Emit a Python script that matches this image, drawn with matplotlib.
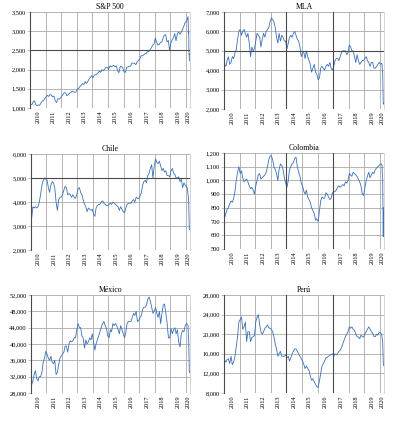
"""Six equity indices, monthly closes Jan 2010 - Mar 2020."""

import matplotlib

matplotlib.use("Agg")
import matplotlib.pyplot as plt  # noqa: E402
import matplotlib.dates as mdates  # noqa: E402
import pandas as pd  # noqa: E402

plt.rcParams["font.family"] = ["Liberation Serif", "DejaVu Serif"]

# monthly points, Jan 2010 .. Jan 2020, then a few points into the March 2020 fall
months = pd.date_range("2010-01-01", "2020-01-01", freq="MS") + pd.Timedelta(days=14)
tail_dates = pd.to_datetime([
    "2020-02-07", "2020-02-20", "2020-02-28", "2020-03-06", "2020-03-12",
    "2020-03-16", "2020-03-19", "2020-03-23", "2020-03-27",
])

sp500 = [
    1100, 1090, 1160, 1190, 1090, 1060, 1080, 1070, 1130, 1180, 1190, 1250,
    1290, 1330, 1300, 1350, 1340, 1290, 1310, 1190, 1140, 1240, 1230, 1260,
    1310, 1360, 1400, 1390, 1320, 1350, 1380, 1400, 1440, 1420, 1410, 1420,
    1490, 1510, 1560, 1590, 1640, 1610, 1690, 1640, 1690, 1750, 1800, 1840,
    1790, 1850, 1870, 1880, 1920, 1960, 1930, 2000, 1970, 2010, 2060, 2060,
    2000, 2100, 2070, 2090, 2110, 2070, 2100, 1970, 1920, 2080, 2080, 2040,
    1940, 1930, 2060, 2070, 2090, 2090, 2170, 2170, 2160, 2130, 2200, 2240,
    2280, 2360, 2360, 2380, 2410, 2420, 2470, 2470, 2520, 2570, 2640, 2670,
    2820, 2710, 2640, 2650, 2710, 2720, 2820, 2900, 2910, 2720, 2760, 2500,
    2700, 2780, 2830, 2940, 2750, 2940, 2980, 2920, 2980, 3040, 3140, 3230,
    3250,
]
sp500_tail = [3330, 3380, 2950, 3000, 2500, 2400, 2410, 2240, 2230]

mla = [
    4300, 4200, 4500, 4700, 4300, 4400, 4700, 4600, 4900, 5050, 5600, 6000,
    6100, 5800, 6000, 6100, 5900, 5700, 5900, 5400, 4700, 5200, 5000, 5100,
    5500, 5900, 5800, 5700, 5200, 5600, 5900, 5700, 6000, 6100, 6200, 6500,
    6700, 6600, 6500, 6200, 5700, 5400, 5900, 5500, 5800, 5700, 5500, 5500,
    5100, 5400, 5700, 5800, 5700, 5900, 6000, 5800, 5600, 5500, 5200, 4700,
    4900, 4900, 4600, 5000, 4700, 4500, 4300, 3900, 4100, 4300, 3900, 3800,
    3500, 3600, 4100, 4200, 4100, 4000, 4200, 4300, 4200, 4400, 4100, 4000,
    4200, 4500, 4600, 4600, 4500, 4700, 4900, 5000, 5000, 5000, 4800, 4900,
    5300, 5200, 5000, 5000, 4700, 4400, 4800, 4500, 4300, 4400, 4500, 4500,
    4600, 4700, 4500, 4400, 4200, 4400, 4400, 4100, 4100, 4200, 4300, 4400,
    4300,
]
mla_tail = [4350, 4300, 4000, 3900, 3100, 2700, 2350, 2250, 2300]

chile = [
    3300, 3800, 3750, 3800, 3750, 3800, 4000, 4300, 4700, 4900, 5000, 4950,
    4900, 4600, 4400, 4700, 4850, 4800, 4600, 4000, 3650, 4100, 4200, 4200,
    4300, 4500, 4650, 4600, 4300, 4350, 4300, 4200, 4300, 4200, 4150, 4300,
    4550, 4600, 4400, 4300, 4100, 3900, 3800, 3600, 3750, 3700, 3650, 3700,
    3500, 3400, 3750, 3850, 3900, 3900, 4000, 4050, 3950, 3900, 3850, 3850,
    3900, 3950, 3900, 4000, 3950, 3900, 3850, 3800, 3650, 3800, 3700, 3600,
    3550, 3750, 3900, 3950, 3950, 3950, 4050, 4100, 4000, 4200, 4150, 4150,
    4250, 4400, 4700, 4850, 4900, 4800, 5100, 5200, 5400, 5550, 5000, 5500,
    5800, 5650, 5600, 5700, 5500, 5300, 5400, 5250, 5300, 5100, 5100, 5050,
    5300, 5400, 5200, 5150, 5000, 5000, 5050, 4850, 4950, 4600, 4800, 4700,
    4650,
]
chile_tail = [4550, 4300, 4200, 4000, 3600, 3200, 2900, 2850, 2850]

colombia = [
    730, 760, 790, 800, 830, 850, 840, 870, 920, 1000, 1060, 1100,
    1050, 1070, 1020, 990, 1000, 1010, 990, 960, 940, 950, 930, 900,
    960, 1000, 1040, 1050, 1010, 1020, 1030, 1040, 1060, 1100, 1150, 1180,
    1180, 1150, 1100, 1080, 1050, 1000, 1080, 1120, 1110, 1080, 1020, 980,
    950, 1000, 1080, 1100, 1120, 1130, 1160, 1170, 1100, 1060, 1030, 980,
    960, 920, 900, 930, 880, 860, 840, 800, 780, 760, 710, 720,
    700, 780, 850, 880, 870, 870, 910, 900, 880, 860, 870, 910,
    920, 920, 930, 950, 960, 950, 960, 970, 960, 990, 980, 1000,
    1050, 1040, 1030, 1060, 1050, 1040, 1030, 1010, 990, 960, 900, 890,
    950, 1000, 1030, 1060, 1020, 1040, 1060, 1050, 1080, 1090, 1100, 1110,
    1120,
]
colombia_tail = [1120, 1110, 1040, 1020, 800, 680, 590, 700, 800]

mexico = [
    30000, 31000, 32500, 33500, 31500, 31000, 32000, 32000, 33000, 35500, 36500, 38200,
    37500, 36500, 36000, 37000, 35500, 35200, 36000, 32500, 33000, 35000, 36500, 37100,
    37500, 38000, 39500, 39500, 38000, 40000, 40800, 40500, 40800, 41500, 41500, 43500,
    45000, 44000, 44000, 42000, 41500, 39000, 41000, 40000, 40500, 41500, 41000, 42500,
    40500, 38500, 40000, 41000, 42000, 43000, 44000, 45000, 45500, 44500, 43800, 42000,
    41500, 43500, 43000, 45000, 44500, 45000, 44500, 43500, 42500, 44500, 43500, 42500,
    41500, 43000, 45000, 45500, 45500, 45500, 46500, 47500, 47000, 48000, 45500, 45800,
    46500, 47000, 48500, 49000, 49000, 49500, 51000, 51500, 50500, 49000, 47500, 48000,
    49000, 47500, 46500, 48000, 45000, 47500, 49500, 49800, 47500, 45000, 41500, 41500,
    43800, 42500, 43400, 44000, 42500, 43500, 40500, 39300, 42500, 43300, 43000, 44500,
    45000,
]
mexico_tail = [44800, 44500, 41600, 41000, 37000, 35000, 33500, 33200, 33000]

peru = [
    14700, 14300, 14800, 15000, 14000, 15500, 13800, 14300, 15500, 17500, 19500, 22500,
    23000, 23500, 21000, 21500, 22500, 18500, 20500, 20500, 18500, 19300, 19500, 19700,
    22500, 23500, 24000, 22000, 20500, 20000, 20500, 21200, 21500, 21900, 21300, 21200,
    21000, 20500, 19500, 18000, 17000, 15500, 16000, 16500, 15500, 15500, 15500, 15800,
    15200, 15500, 14500, 15200, 16000, 16500, 17000, 17000, 16500, 16000, 15500, 15000,
    14500, 13800, 13000, 13500, 13000, 12600, 11500, 10600, 10900, 10300, 9800, 9300,
    9100, 10500, 12000, 13500, 14000, 14500, 15200, 15300, 15500, 15700, 15800, 16000,
    15500, 16000, 15800, 16000, 16500, 16700, 17300, 18000, 18800, 19500, 20000, 20500,
    21500, 21200, 21500, 21000, 20800, 20100, 19500, 19400, 19100, 19800, 19500, 19400,
    20100, 20500, 21000, 21500, 21000, 20500, 20200, 19500, 19500, 20000, 19800, 20400,
    20300,
]
peru_tail = [20000, 19500, 18800, 18500, 16500, 14500, 13700, 13700, 13600]

years = list(range(2010, 2021))
x_end = pd.Timestamp("2020-04-06")

LINE = "#3a70b8"
GRID = "#a8a8a8"
DARK = "#4a4a4a"
W, H = 394, 422


def _axes(fig, left, top, right, bottom):
    return fig.add_axes([left / W, 1 - bottom / H, (right - left) / W, (bottom - top) / H])


def draw_panel(ax, title, values, tail, yticks, dark_y=None, dark_x=()):
    x = list(months) + list(tail_dates)
    y = list(values) + list(tail)
    ax.plot(x, y, color=LINE, lw=0.6)

    ax.set_xlim(pd.Timestamp("2010-01-01"), x_end)
    ax.set_ylim(yticks[0], yticks[-1])

    starts = [pd.Timestamp(f"{yr}-01-01") for yr in years]
    mids = [pd.Timestamp(f"{yr}-07-02") for yr in years[:-1]]
    mids.append(starts[-1] + (x_end - starts[-1]) / 2)
    ax.set_xticks(starts)
    ax.set_xticklabels([])
    ax.set_xticks(mids, minor=True)
    ax.set_xticklabels([str(yr) for yr in years], minor=True, rotation=90, fontsize=4.6)
    ax.tick_params(axis="x", which="both", length=0, pad=2)

    ax.set_yticks(yticks)
    ax.set_yticklabels([f"{v:,}" for v in yticks], fontsize=4.6)
    ax.tick_params(axis="y", length=2, width=0.5, color=GRID, pad=1)

    ax.grid(True, which="major", color=GRID, lw=0.6)
    if dark_y is not None:
        ax.axhline(dark_y, color=DARK, lw=0.8)
    for d in dark_x:
        ax.axvline(pd.Timestamp(d), color=DARK, lw=0.8)

    for side in ("top", "bottom"):
        ax.spines[side].set_visible(False)
    ax.spines["left"].set_color(DARK)
    ax.spines["left"].set_linewidth(0.8)
    ax.spines["right"].set_color("#d0d0d0")
    ax.spines["right"].set_linewidth(0.6)
    ax.set_title(title, fontsize=5.6, pad=2)
    ax.xaxis.set_major_formatter(mdates.DateFormatter(""))


fig = plt.figure(figsize=(W / 100, H / 100), dpi=100)

draw_panel(_axes(fig, 30, 12, 190, 108), "S&P 500", sp500, sp500_tail,
           [1000, 1500, 2000, 2500, 3000, 3500], dark_y=2500)
draw_panel(_axes(fig, 224, 12, 384, 109), "MLA", mla, mla_tail,
           [2000, 3000, 4000, 5000, 6000, 7000], dark_y=5000,
           dark_x=("2014-01-01", "2017-01-01"))
draw_panel(_axes(fig, 31, 154, 190, 250), "Chile", chile, chile_tail,
           [2000, 3000, 4000, 5000, 6000], dark_y=5000)
draw_panel(_axes(fig, 224, 153, 384, 249), "Colombia", colombia, colombia_tail,
           [500, 600, 700, 800, 900, 1000, 1100, 1200],
           dark_x=("2014-01-01", "2017-01-01"))
draw_panel(_axes(fig, 31, 295, 190, 393), "México", mexico, mexico_tail,
           [28000, 32000, 36000, 40000, 44000, 48000, 52000])
draw_panel(_axes(fig, 224, 295, 384, 393), "Perú", peru, peru_tail,
           [8000, 12000, 16000, 20000, 24000, 28000],
           dark_x=("2014-01-01", "2017-01-01"))

fig.savefig("out.png", dpi=100)
plt.close(fig)
